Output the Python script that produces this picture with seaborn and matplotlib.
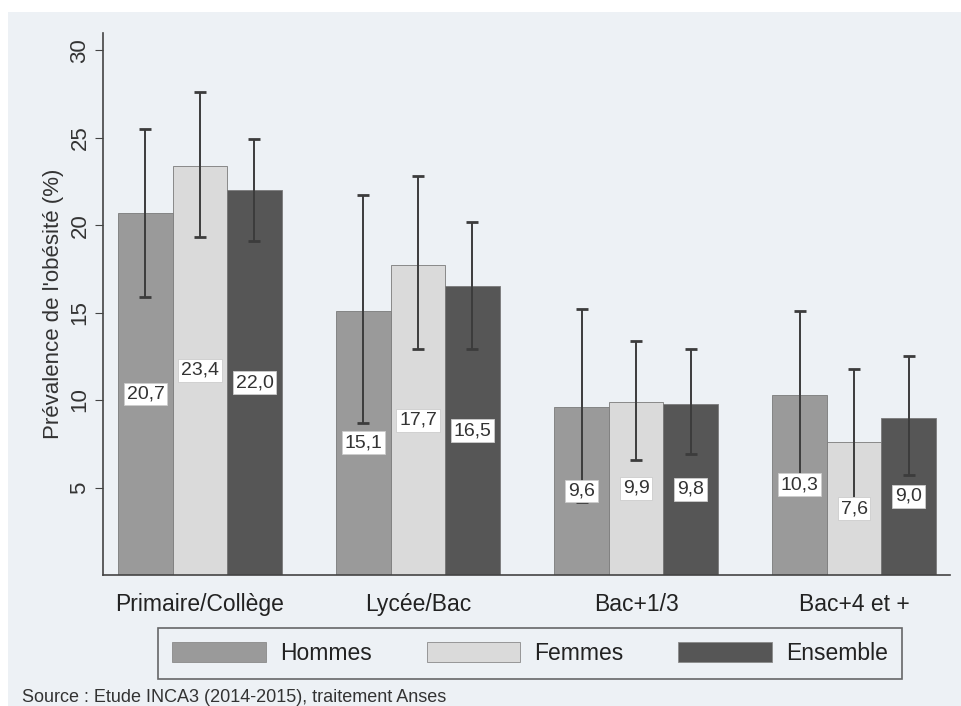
import pandas as pd
import matplotlib.pyplot as plt
import matplotlib.patches as mpatches
import seaborn as sns

niveaux = ["Primaire/Collège", "Lycée/Bac", "Bac+1/3", "Bac+4 et +"]
groupes = ["Hommes", "Femmes", "Ensemble"]

# prevalence (%) per group, one list per education level order
hommes = [20.7, 15.1, 9.6, 10.3]
femmes = [23.4, 17.7, 9.9, 7.6]
ensemble = [22.0, 16.5, 9.8, 9.0]

# confidence interval bounds
hommes_bas = [15.9, 8.7, 4.2, 5.7]
hommes_haut = [25.5, 21.7, 15.2, 15.1]
femmes_bas = [19.3, 12.9, 6.6, 3.6]
femmes_haut = [27.6, 22.8, 13.4, 11.8]
ensemble_bas = [19.1, 12.9, 6.9, 5.7]
ensemble_haut = [24.9, 20.2, 12.9, 12.5]

couleurs = ["#9a9a9a", "#dadada", "#565656"]
fond = "#edf1f5"

df = pd.DataFrame({
    "niveau": niveaux * 3,
    "groupe": [g for g in groupes for _ in niveaux],
    "valeur": hommes + femmes + ensemble,
    "bas": hommes_bas + femmes_bas + ensemble_bas,
    "haut": hommes_haut + femmes_haut + ensemble_haut,
})

sns.set_style("ticks")
plt.rcParams["font.family"] = ["Liberation Sans", "DejaVu Sans"]

fig = plt.figure(figsize=(9.62, 7.06), dpi=100, facecolor="white")
fig.patches.append(mpatches.Rectangle((8 / 962, 0), 1, 1 - 12 / 706, transform=fig.transFigure,
                                      facecolor=fond, edgecolor="none", zorder=-10))
ax = fig.add_axes([0.107, 0.1856, 0.8805, 0.768])
ax.set_facecolor(fond)

sns.barplot(data=df, x="niveau", y="valeur", hue="groupe", order=niveaux, hue_order=groupes,
            palette=couleurs, width=0.75, gap=0, errorbar=None, edgecolor="#7a7a7a",
            linewidth=0.6, legend=False, ax=ax)

# error bars and value labels, placed from the drawn bars
for cont, g in zip(ax.containers, groupes):
    sub = df[df["groupe"] == g].set_index("niveau").loc[niveaux]
    for bar, (_, row) in zip(cont, sub.iterrows()):
        xc = bar.get_x() + bar.get_width() / 2
        ax.errorbar(xc, row["valeur"], yerr=[[row["valeur"] - row["bas"]], [row["haut"] - row["valeur"]]],
                    fmt="none", ecolor="#3c3c3c", elinewidth=1.4, capsize=4, capthick=2, zorder=5)
        ax.text(xc, row["valeur"] / 2, f"{row['valeur']:.1f}".replace(".", ","),
                ha="center", va="center", fontsize=14, color="#333333", zorder=6,
                bbox=dict(boxstyle="square,pad=0.15", facecolor="white", edgecolor="#cccccc", linewidth=0.6))

ax.set_ylim(0, 31)
ax.set_xlim(-0.445, 3.44)
ax.set_yticks([5, 10, 15, 20, 25, 30])
ax.tick_params(axis="y", labelsize=16, length=6, color="#444444", labelcolor="#333333", rotation=90, pad=3)
for t in ax.get_yticklabels():
    t.set_va("center")
ax.tick_params(axis="x", length=0, labelsize=16.5, labelcolor="#222222", pad=13)
ax.set_xlabel("")
ax.set_ylabel("Prévalence de l'obésité (%)", fontsize=16, color="#333333", labelpad=4)
sns.despine(ax=ax)
for s in ["left", "bottom"]:
    ax.spines[s].set_color("#444444")
    ax.spines[s].set_linewidth(1.2)

handles = [mpatches.Patch(facecolor=c, edgecolor="#8a8a8a", linewidth=0.6, label=g)
           for c, g in zip(couleurs, groupes)]
leg = fig.legend(handles=handles, loc="center", bbox_to_anchor=(0.551, 0.0744), ncol=3,
                 fontsize=16.5, handlelength=4.1, handleheight=0.95, columnspacing=2.4,
                 handletextpad=0.6, frameon=True, fancybox=False, borderpad=0.6)
leg.get_frame().set_edgecolor("#444444")
leg.get_frame().set_facecolor(fond)
leg.get_frame().set_linewidth(1.2)
for t in leg.get_texts():
    t.set_color("#222222")

fig.text(22 / 962, 1 - 697 / 706, "Source : Etude INCA3 (2014-2015), traitement Anses",
         fontsize=13, color="#333333", va="center", ha="left")

fig.savefig("out.png", dpi=100, facecolor=fig.get_facecolor())
